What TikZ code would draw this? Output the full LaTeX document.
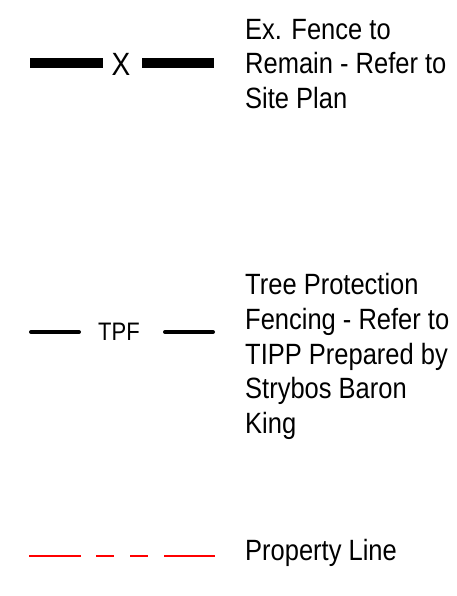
\documentclass[tikz,border=0pt]{standalone}
\usepackage{fontspec}
\setmainfont{Liberation Sans}
\newcommand{\legtxt}[1]{\scalebox{1}[1.15]{\parbox[b]{210pt}{\raggedright\fontsize{25.5}{30.2}\selectfont #1}}}
\newcommand{\tallsym}[2]{\scalebox{1}[1.15]{\fontsize{#1}{#1}\selectfont #2}}
\begin{document}
\begin{tikzpicture}[x=1pt,y=-1pt,
  legendtext/.style={anchor=base west,inner sep=0pt},
  symtext/.style={inner sep=0pt},
  fenceline/.style={line width=10pt,black},
  tpfline/.style={line width=4pt,black,line cap=round},
  propline/.style={line width=2pt,red}]
\useasboundingbox (0,0) rectangle (456,596);
% Existing fence
\draw[fenceline] (30,63) -- (103,63);
\draw[fenceline] (142,63) -- (214,63);
\node[symtext] (xmark) at (121,64) {\tallsym{28}{X}};
% (base anchor of the text block lies on its last line)
\node[legendtext] (t1) at (245,108.5) {\legtxt{Ex. Fence to\\Remain - Refer to\\Site Plan}};
% Tree protection fencing
\draw[tpfline] (31,332) -- (79,332);
\draw[tpfline] (165,332) -- (213,332);
\node[symtext] (tpf) at (119,332) {\tallsym{22}{TPF}};
\node[legendtext] (t2) at (245,433.7) {\legtxt{Tree Protection\\Fencing - Refer to\\TIPP Prepared by\\Strybos Baron\\King}};
% Property line
\draw[propline] (29,556) -- (81,556);
\draw[propline] (96,556) -- (114,556);
\draw[propline] (130,556) -- (148,556);
\draw[propline] (164,556) -- (215,556);
\node[legendtext] (t3) at (245,560.5) {\legtxt{Property Line}};
\end{tikzpicture}
\end{document}
